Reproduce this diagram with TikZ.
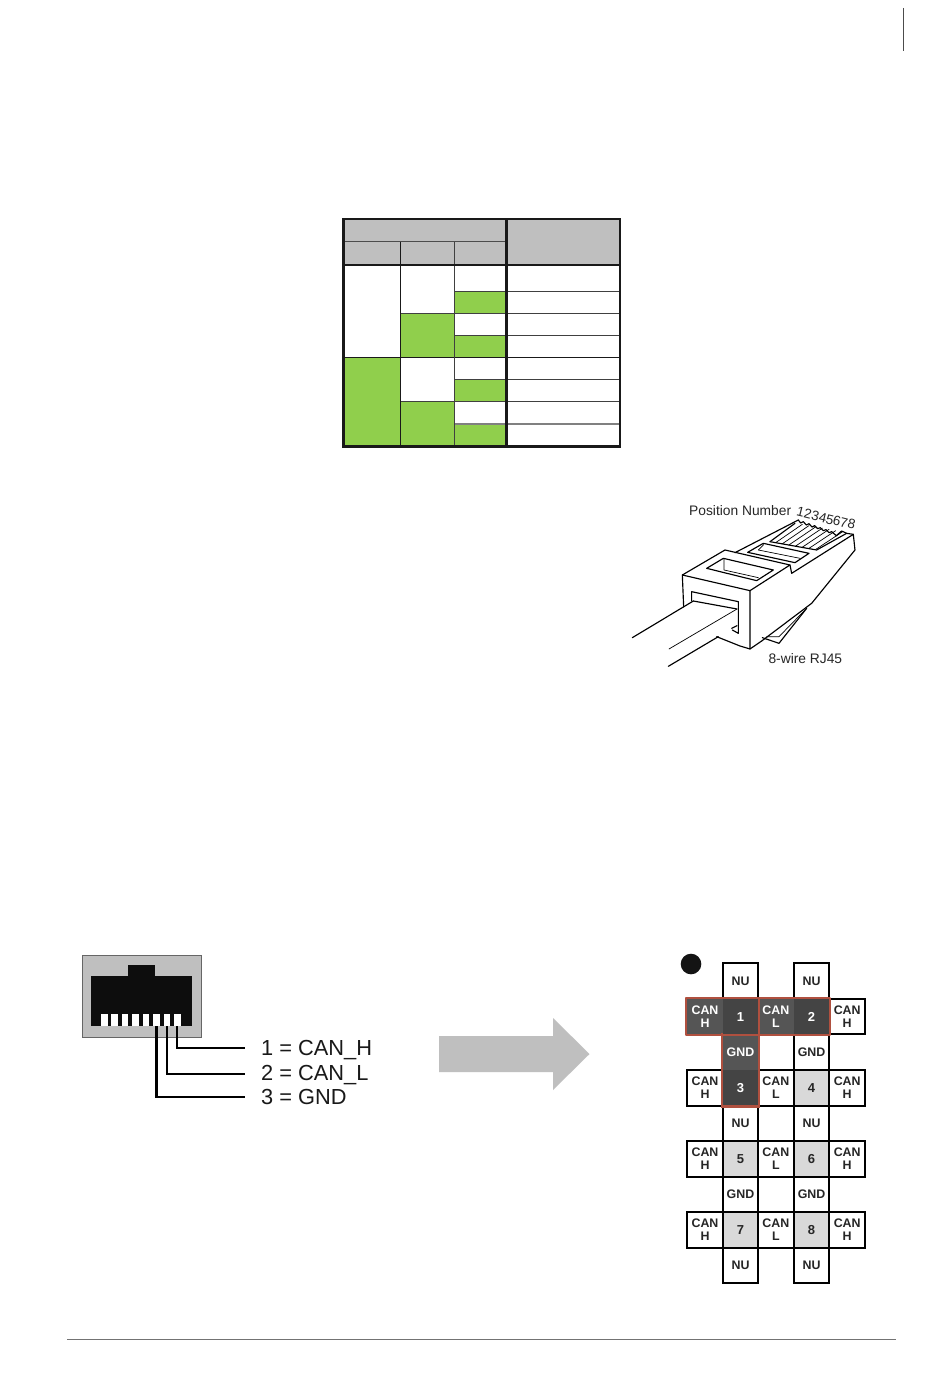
\documentclass[tikz,border=0pt]{standalone}
\usepackage{fontspec}
\setmainfont{Liberation Sans}
\definecolor{tgreen}{HTML}{90CF4C}
\definecolor{tgray}{HTML}{BFBFBF}
\definecolor{pdark}{HTML}{444444}
\definecolor{pmid}{HTML}{555555}
\definecolor{plight}{HTML}{D9D9D9}
\definecolor{pred}{HTML}{B0503F}
\tikzset{
  gcell/.style={draw=black,line width=1.9pt,minimum width=35.6pt,minimum height=35.5pt,inner sep=0pt,font=\fontsize{12.4}{13}\selectfont\bfseries,align=center},
  sketch/.style={line width=1.15pt,line join=round,line cap=round},
  thinsk/.style={line width=0.7pt,line join=round,line cap=round},
  pin/.style={fill=white,minimum width=6.6pt,minimum height=12pt,inner sep=0pt},
  wire/.style={line width=2.2pt},
  lab/.style={anchor=base west,inner sep=0pt,font=\fontsize{21.8}{24}\selectfont,text=black!90},
  rjlab/.style={anchor=base west,inner sep=0pt,font=\fontsize{13.8}{15}\selectfont,text=black!85},
  rjnum/.style={inner sep=0pt,font=\fontsize{13.5}{14}\selectfont,rotate=-14,text=black!85},
}
\begin{document}
\begin{tikzpicture}[x=1pt,y=-1pt]
\useasboundingbox (0,0) rectangle (950,1378);
\fill[white] (0,0) rectangle (950,1378);
% page furniture
\draw[line width=1pt,black!70] (903.5,8) -- (903.5,51);
\draw[line width=0.9pt,black!55] (67,1339) -- (896,1339);
% table
\fill[tgray] (343.5,219) rectangle (620,265);
\fill[tgreen] (343.5,357.3) rectangle (400.5,446.5);
\fill[tgreen] (400.5,313.3) rectangle (454.7,357.3);
\fill[tgreen] (400.5,401.7) rectangle (454.7,446.5);
\foreach \a/\b in {291/313.3,335.3/357.3,379.3/401.7,424/446.5}
  \fill[tgreen] (454.7,\a) rectangle (506.3,\b);
\draw[line width=1pt,black!70] (343.5,241.7) -- (506.3,241.7);
\foreach \yy in {291,335.3,379.3}
  \draw[line width=1pt,black!75] (454.7,\yy) -- (620,\yy);
\draw[line width=1pt,black!75] (400.5,313.3) -- (620,313.3);
\draw[line width=1pt,black!75] (400.5,401.7) -- (620,401.7);
\draw[line width=1.2pt,black!50] (454.7,424) -- (620,424);
\draw[line width=1.1pt,black!90] (343.5,357.3) -- (620,357.3);
\draw[line width=1.2pt,black!90] (400.5,241.7) -- (400.5,446.5);
\draw[line width=1pt,black!75] (454.7,241.7) -- (454.7,446.5);
\draw[line width=2.4pt,black!90] (506.3,219) -- (506.3,446.5);
\draw[line width=2.4pt,black!90] (343.5,265) -- (620,265);
\draw[line width=2.4pt,black!90] (343.5,219) rectangle (620,446.5);
% RJ45 plug sketch
\begin{scope}[shift={(625,495)},x=0.3333pt,y=-0.3333pt]
  % housing front
  \draw[sketch] (176,336) -- (172,240) -- (375,287) -- (375,462) -- (345,453) -- (275,425);
  \draw[sketch] (172,240) -- (300,165) -- (495,210) -- (375,287);
  % opening
  \draw[sketch] (200,318) -- (200,290) -- (340,320) -- (340,415) -- (322,405);
  \draw[sketch] (205,318) -- (336,342);
  % cable
  \draw[sketch] (22,428) -- (205,318);
  \draw[thinsk] (132,462) -- (336,342);
  \draw[sketch] (130,514) -- (280,425);
  \draw[sketch] (320,400) -- (336,392);
  % window in front part
  \draw[sketch] (245,220) -- (295,190) -- (445,225) -- (395,257) -- cycle;
  \draw[thinsk] (297,190) -- (297,225) -- (400,248);
  % body and latch step
  \draw[sketch] (495,210) -- (500,235) -- (685,118) -- (690,165) -- (560,325) -- (410,438);
  \draw[sketch] (375,462) -- (410,438);
  \draw[sketch] (330,173) -- (520,75);
  % teeth along the ridge
  \draw[sketch] (520,75) -- (527,84) -- (535,80) -- (544,90) -- (552,86) -- (561,96) -- (569,92) -- (578,101) -- (586,98) -- (595,107) -- (603,104) -- (612,113) -- (620,110) -- (634,122) -- (650,108) -- (665,115) -- (685,118);
  % latch window
  \draw[sketch] (368,172) -- (415,145) -- (552,175) -- (510,203) -- cycle;
  \draw[thinsk] (400,165) -- (415,150) -- (415,145);
  \draw[thinsk] (400,165) -- (525,190);
  % contacts
  \draw[sketch] (435,140) -- (510,85);
  \draw[sketch] (435,140) -- (575,165) -- (665,115);
  \foreach \i in {0,...,6}
    \draw[thinsk] ({452+\i*20},{143+\i*3.4}) -- ({532+\i*20},{88+\i*3.8});
  % wedge under the body
  \draw[sketch] (545,340) -- (462,445) -- (412,428);
  \draw[thinsk] (545,340) -- (462,425) -- (425,425);
  % labels
  \node[rjlab] (posnum) at (192,61) {Position Number};
  \node[rjlab] (wirelab) at (430,505) {8-wire RJ45};
  \node[rjnum] (n1) at (527,52) {1};
  \node[rjnum] (n2) at (549,57) {2};
  \node[rjnum] (n3) at (571,62) {3};
  \node[rjnum] (n4) at (594,68) {4};
  \node[rjnum] (n5) at (615,74) {5};
  \node[rjnum] (n6) at (636,79) {6};
  \node[rjnum] (n7) at (657,84) {7};
  \node[rjnum] (n8) at (680,88) {8};
\end{scope}
% socket
\draw[fill=tgray,draw=black!60,line width=0.8pt] (82,955.5) rectangle (201,1037);
\fill[black!95] (91.3,976) rectangle (191.7,1026);
\fill[black!95] (127.7,965) rectangle (155,976);
\foreach \i in {1,...,8}
  \node[pin] (p\i) at ({104.3+(\i-1)*10.43},1020) {};
\node[lab] (l1) at (261,1055) {1 = CAN\_H};
\node[lab] (l2) at (261,1080) {2 = CAN\_L};
\node[lab] (l3) at (261,1104) {3 = GND};
\coordinate (w1) at (245,1047.7);
\coordinate (w2) at (245,1074);
\coordinate (w3) at (245,1096.7);
\draw[wire] (p8.south) |- (w1);
\draw[wire] (p7.south) |- (w2);
\draw[wire] (p6.south) |- (w3);
% big arrow
\fill[tgray] (439,1036) -- (553,1036) -- (553,1018) -- (589.5,1054) -- (553,1090) -- (553,1072) -- (439,1072) -- cycle;
% pin grid
\fill[black!92] (691,964) circle (10.3);
\foreach \nm/\xx/\yy/\tx in {
  a/740.5/981/NU, b/811.6/981/NU,
  c/847.2/1016.6/{CAN\\H},
  d/811.6/1052/GND,
  e/705/1087.8/{CAN\\H}, f/775.9/1087.8/{CAN\\L}, g/847.2/1087.8/{CAN\\H},
  h/740.5/1123.4/NU, i/811.6/1123.4/NU,
  j/705/1159/{CAN\\H}, k/775.9/1159/{CAN\\L}, l/847.2/1159/{CAN\\H},
  m/740.5/1194.4/GND, n/811.6/1194.4/GND,
  o/705/1229.8/{CAN\\H}, q/775.9/1229.8/{CAN\\L}, r/847.2/1229.8/{CAN\\H},
  s/740.5/1265/NU, t/811.6/1265/NU}
  \node[gcell,fill=white,text=black!85] (cell\nm) at (\xx,\yy) {\tx};
\foreach \nm/\xx/\yy/\tx in {4/811.6/1087.8/4, 5/740.5/1159/5, 6/811.6/1159/6, 7/740.5/1229.8/7, 8/811.6/1229.8/8}
  \node[gcell,fill=plight,text=black!85,font=\fontsize{13}{14}\selectfont\bfseries] (pos\nm) at (\xx,\yy) {\tx};
\foreach \nm/\xx/\yy/\tx in {canhi/705/1016.6/{CAN\\H}, canlo/775.9/1016.6/{CAN\\L}, gnd/740.5/1052/GND}
  \node[gcell,draw=none,fill=pmid,text=white] (dk\nm) at (\xx,\yy) {\tx};
\foreach \nm/\xx/\yy/\tx in {one/740.5/1016.6/1, two/811.6/1016.6/2, three/740.5/1087.8/3}
  \node[gcell,draw=none,fill=pdark,text=white,font=\fontsize{13}{14}\selectfont\bfseries] (dk\nm) at (\xx,\yy) {\tx};
\draw[pred,line width=2.1pt,line join=round] (dkcanhi.north west) -- (dktwo.north east) -- (dktwo.south east) -- (dkcanhi.south west) -- cycle;
\draw[pred,line width=2.1pt] (dkone.north east) -- (dkone.south east);
\draw[pred,line width=2.1pt] (dkgnd.north west) -- (dkthree.south west) -- (dkthree.south east) -- (dkgnd.north east);
\end{tikzpicture}
\end{document}
